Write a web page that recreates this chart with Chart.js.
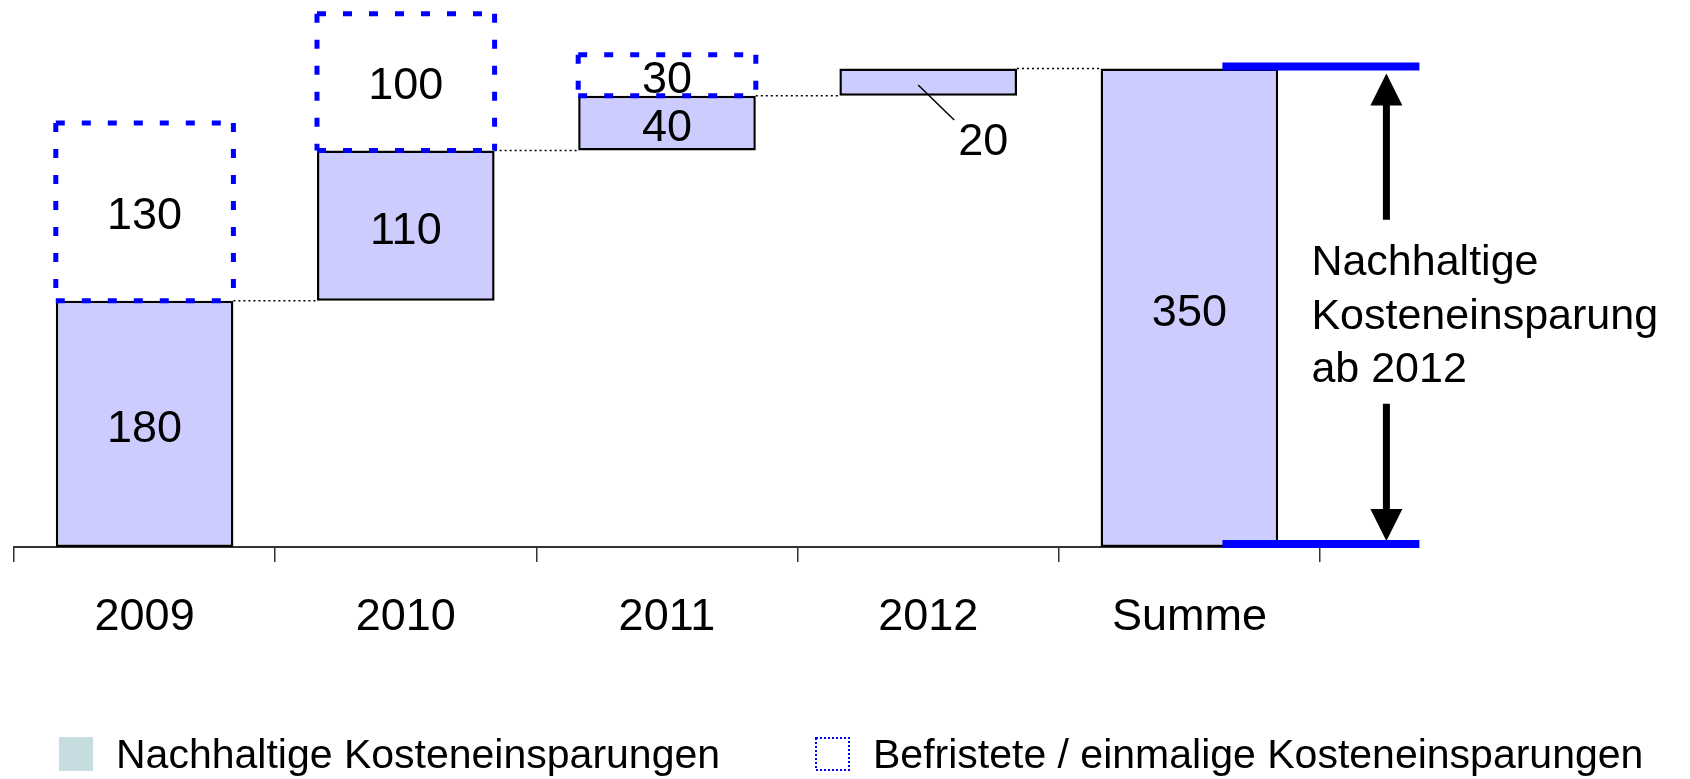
<!DOCTYPE html>
<html>
<head>
<meta charset="utf-8">
<script src="https://cdn.jsdelivr.net/npm/chart.js@4.4.1/dist/chart.umd.min.js"></script>
<style>
html, body { margin: 0; padding: 0; background: #fff; }
#wrap { width: 1690px; height: 779px; position: relative; }
</style>
</head>
<body>
<div id="wrap"><canvas id="chart"></canvas></div>
<script>
const categories = ['2009', '2010', '2011', '2012', 'Summe'];
const sustained = [180, 110, 40, 20, 350];
const temporary = [130, 100, 30, null, null];
const seriesNames = ['Nachhaltige Kosteneinsparungen', 'Befristete / einmalige Kosteneinsparungen'];
const noteLines = ['Nachhaltige', 'Kosteneinsparung', 'ab 2012'];
const yMax = 400;

const FONT = '"Liberation Sans", Arial, sans-serif';

// waterfall: every year starts where the one before ended, Summe starts at 0
const sustainedBars = [];
const temporaryBars = [];
let run = 0;
categories.forEach((c, i) => {
  if (c === 'Summe') {
    sustainedBars.push([0, sustained[i]]);
  } else {
    sustainedBars.push([run, run + sustained[i]]);
    run += sustained[i];
  }
  const top = sustainedBars[i][1];
  temporaryBars.push(temporary[i] == null ? null : [top, top + temporary[i]]);
});

const extras = {
  id: 'extras',
  afterDraw(chart) {
    const ctx = chart.ctx;
    const y = chart.scales.y;
    const solid = chart.getDatasetMeta(0).data;
    const temp = chart.getDatasetMeta(1).data;
    ctx.save();

    // dotted connectors between the steps
    ctx.strokeStyle = '#000';
    ctx.lineWidth = 1.5;
    ctx.setLineDash([2, 3]);
    for (let i = 0; i < solid.length - 1; i++) {
      const a = solid[i], b = solid[i + 1];
      const py = y.getPixelForValue(sustainedBars[i][1]);
      ctx.beginPath();
      ctx.moveTo(a.x + a.width / 2, py);
      ctx.lineTo(b.x - b.width / 2, py);
      ctx.stroke();
    }

    // dashed boxes for the temporary savings
    ctx.strokeStyle = '#0000ff';
    ctx.lineWidth = 5;
    ctx.setLineDash([9, 17]);
    temp.forEach((el, i) => {
      if (temporaryBars[i] == null) return;
      const l = el.x - el.width / 2, r = el.x + el.width / 2;
      const t = Math.min(el.y, el.base), b = Math.max(el.y, el.base);
      [[l, t, r, t], [l, b, r, b], [l, t, l, b], [r, t, r, b]].forEach(s => {
        ctx.beginPath();
        ctx.moveTo(s[0], s[1]);
        ctx.lineTo(s[2], s[3]);
        ctx.stroke();
      });
    });
    ctx.setLineDash([]);

    // value labels
    ctx.fillStyle = '#000';
    ctx.font = '45px ' + FONT;
    ctx.textAlign = 'center';
    ctx.textBaseline = 'middle';
    solid.forEach((el, i) => {
      const cy = (el.y + el.base) / 2;
      if (Math.abs(el.base - el.y) < 40) {
        ctx.lineWidth = 1.5;
        ctx.strokeStyle = '#000';
        ctx.beginPath();
        ctx.moveTo(el.x - 10, cy + 3);
        ctx.lineTo(el.x + 26, cy + 38);
        ctx.stroke();
        ctx.fillText(String(sustained[i]), el.x + 55, cy + 61);
      } else {
        ctx.fillText(String(sustained[i]), el.x, cy + 6);
      }
    });
    temp.forEach((el, i) => {
      if (temporaryBars[i] == null) return;
      ctx.fillText(String(temporary[i]), el.x, (el.y + el.base) / 2 + 5);
    });

    // bracket on the right of Summe
    const sum = solid[solid.length - 1];
    const yTop = y.getPixelForValue(sustained[sustained.length - 1]);
    const yBot = y.getPixelForValue(0);
    ctx.strokeStyle = '#0000ff';
    ctx.lineWidth = 8;
    [yTop - 2, yBot - 3].forEach(py => {
      ctx.beginPath();
      ctx.moveTo(sum.x + 33, py);
      ctx.lineTo(sum.x + 230, py);
      ctx.stroke();
    });

    const ax = sum.x + 197;
    const mid = (yTop + yBot) / 2;
    ctx.strokeStyle = '#000';
    ctx.fillStyle = '#000';
    ctx.lineWidth = 7;
    ctx.beginPath();
    ctx.moveTo(ax, yTop + 36);
    ctx.lineTo(ax, mid - 88);
    ctx.moveTo(ax, mid + 96);
    ctx.lineTo(ax, yBot - 36);
    ctx.stroke();
    ctx.beginPath();
    ctx.moveTo(ax, yTop + 5);
    ctx.lineTo(ax - 16, yTop + 37);
    ctx.lineTo(ax + 16, yTop + 37);
    ctx.closePath();
    ctx.fill();
    ctx.beginPath();
    ctx.moveTo(ax, yBot - 6);
    ctx.lineTo(ax - 16, yBot - 38);
    ctx.lineTo(ax + 16, yBot - 38);
    ctx.closePath();
    ctx.fill();

    ctx.font = '43px ' + FONT;
    ctx.textAlign = 'left';
    ctx.textBaseline = 'alphabetic';
    const offs = [-33, 21, 74];
    noteLines.forEach((t, k) => ctx.fillText(t, sum.x + 122, mid + offs[k]));

    // legend (two items on one row, wider apart than the built-in one allows)
    const ly = 757;
    ctx.font = '41px ' + FONT;
    ctx.textBaseline = 'middle';
    ctx.fillStyle = '#c6dce0';
    ctx.fillRect(59, ly - 20, 34, 34);
    ctx.fillStyle = '#000';
    ctx.fillText(seriesNames[0], 116, ly);
    ctx.fillStyle = '#fff';
    ctx.fillRect(815, ly - 20, 35, 34);
    ctx.strokeStyle = '#0000ff';
    ctx.lineWidth = 2;
    ctx.setLineDash([2, 2]);
    ctx.strokeRect(816, ly - 19, 33, 32);
    ctx.setLineDash([]);
    ctx.fillStyle = '#000';
    ctx.fillText(seriesNames[1], 873, ly);

    ctx.restore();
  }
};

new Chart(document.getElementById('chart'), {
  type: 'bar',
  data: {
    labels: categories,
    datasets: [
      {
        label: seriesNames[0],
        data: sustainedBars,
        backgroundColor: '#ccccff',
        borderColor: '#000',
        borderWidth: 2.5,
        borderSkipped: false,
        grouped: false,
        barPercentage: 0.68,
        categoryPercentage: 1
      },
      {
        label: seriesNames[1],
        data: temporaryBars,
        backgroundColor: 'rgba(0,0,0,0)',
        borderWidth: 0,
        grouped: false,
        barPercentage: 0.68,
        categoryPercentage: 1
      }
    ]
  },
  options: {
    responsive: true,
    maintainAspectRatio: false,
    animation: false,
    events: [],
    layout: { padding: { top: 0, left: 0, right: 0, bottom: 146 } },
    plugins: {
      tooltip: { enabled: false },
      legend: { display: false }
    },
    scales: {
      x: {
        offset: true,
        grid: { display: true, drawOnChartArea: false, drawTicks: true, tickLength: 15, color: '#333', lineWidth: 1.5, offset: true },
        border: { display: true, color: '#333', width: 2 },
        ticks: { color: '#000', font: { family: FONT, size: 45 }, padding: 29, maxRotation: 0, autoSkip: false },
        afterFit: s => { s.height = 86; }
      },
      y: {
        position: 'left',
        min: 0,
        max: yMax,
        ticks: { display: false },
        grid: { display: false },
        border: { display: false },
        afterFit: s => { s.width = 14; }
      },
      yR: {
        position: 'right',
        min: 0,
        max: 1,
        ticks: { display: false },
        grid: { display: false },
        border: { display: false },
        afterFit: s => { s.width = 370; }
      }
    }
  },
  plugins: [extras]
});
</script>
</body>
</html>
